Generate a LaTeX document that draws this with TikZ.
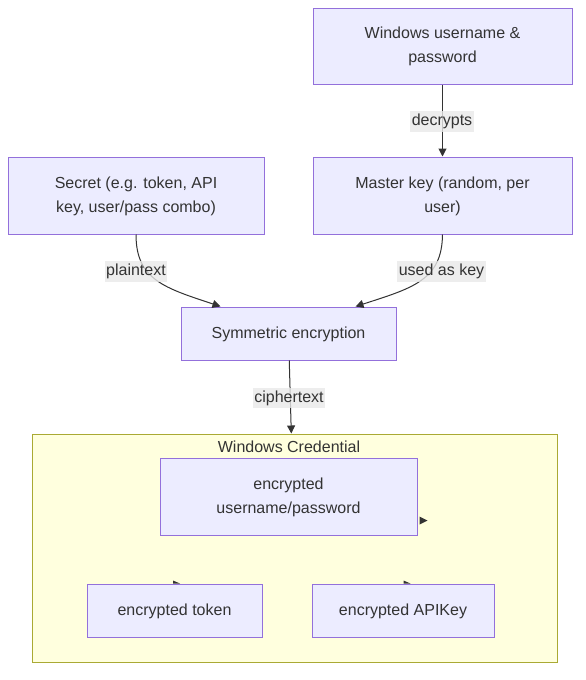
\documentclass[tikz,border=0pt]{standalone}
\usepackage{fontspec}
\setmainfont{Liberation Sans}
\usetikzlibrary{arrows.meta,calc}
\definecolor{nodefill}{HTML}{ECECFF}
\definecolor{nodeline}{HTML}{9370DB}
\definecolor{clfill}{HTML}{FFFFDE}
\definecolor{clline}{HTML}{AAAA33}
\definecolor{ink}{HTML}{333333}
\definecolor{lblbg}{HTML}{E8E8E8}
\newcommand{\boxtxt}[1]{\raisebox{-2pt}{\begin{tabular}{@{}c@{}}#1\end{tabular}}}
\tikzset{
  box/.style={draw=nodeline, fill=nodefill, line width=1pt, text=ink, inner sep=0pt,
    align=center, font=\fontsize{16}{24}\selectfont},
  cluster/.style={draw=clline, fill=clfill, line width=1pt, inner sep=0pt},
  edge/.style={draw=ink, line width=1pt, -{Triangle[length=8pt,width=8pt]}},
  elabel/.style={fill=lblbg, fill opacity=0.8, text opacity=1, text=ink, inner xsep=1.5pt,
    inner ysep=3pt, font=\fontsize{16}{20}\selectfont},
  tip/.style={fill=ink, draw=none}
}
\begin{document}
\begin{tikzpicture}[x=1pt,y=-1pt]
\useasboundingbox (0,0) rectangle (586,680);
% cluster
\node[cluster, minimum width=525pt, minimum height=228pt] (cred) at (294.5,548) {};
\node[text=ink, font=\fontsize{16}{20}\selectfont] (credlbl) at (289,446.5) {Windows Credential};
% nodes
\node[box, minimum width=259pt, minimum height=76pt] (win) at (442.5,46) {\boxtxt{Windows username \&\\password}};
\node[box, minimum width=259pt, minimum height=77pt] (mk) at (442.5,195.5) {\boxtxt{Master key (random, per\\user)}};
\node[box, minimum width=256pt, minimum height=77pt] (sec) at (136,195.5) {\boxtxt{Secret (e.g. token, API\\key, user/pass combo)}};
\node[box, minimum width=215pt, minimum height=53pt] (sym) at (288.5,333.5) {\boxtxt{Symmetric encryption}};
\node[box, minimum width=257pt, minimum height=77pt] (eup) at (288.5,496.5) {\boxtxt{encrypted\\username/password}};
\node[box, minimum width=175pt, minimum height=53pt] (tok) at (174.5,610.5) {\boxtxt{encrypted token}};
\node[box, minimum width=182pt, minimum height=53pt] (api) at (403,610.5) {\boxtxt{encrypted APIKey}};
% edges
\draw[edge] (win) -- (mk);
\node[elabel] (l1) at (442,121.5) {decrypts};
\coordinate (symL) at ($(sym.north west)+(40,0)$);
\coordinate (symR) at ($(sym.north east)+(-41,0)$);
\draw[edge] (sec.south) .. controls (136,280) and (165,288) .. (symL);
\draw[edge] (mk.south) .. controls (442,280) and (413,288) .. (symR);
\node[elabel] (l2) at (136,271.5) {plaintext};
\node[elabel] (l3) at (441.5,271.5) {used as key};
\draw[edge] (sym) -- (cred);
\node[elabel] (l4) at (289,398) {ciphertext};
% stray arrowheads inside the cluster
\fill[tip] ($(eup.east)+(2,20)$) -- ++(8,4) -- ++(-8,4) -- cycle;
\fill[tip] ($(tok.north)+(-1.5,-3)$) -- ++(7,3) -- ++(-7,0) -- cycle;
\fill[tip] ($(api.north)+(0.5,-3)$) -- ++(7,3) -- ++(-7,0) -- cycle;
\end{tikzpicture}
\end{document}
